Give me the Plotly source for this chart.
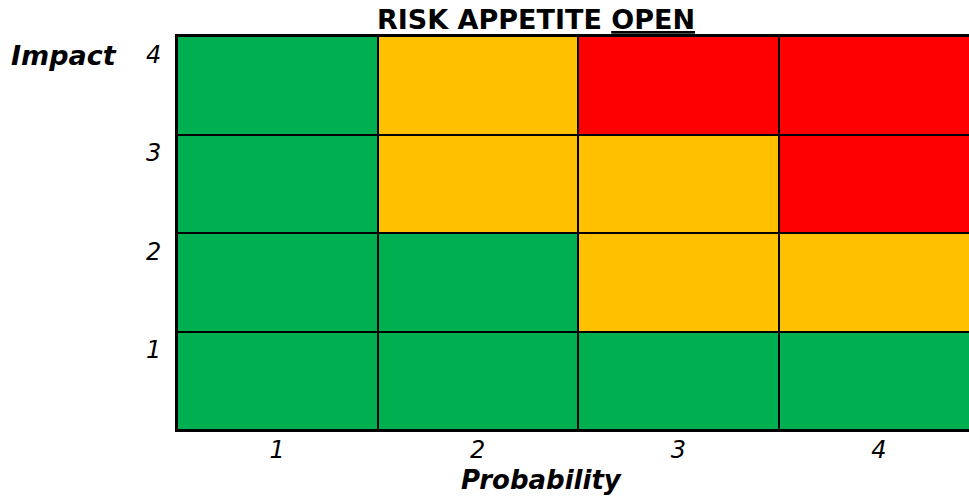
import plotly.graph_objects as go

# Data
probability = [1, 2, 3, 4]
impact = [1, 2, 3, 4]
# risk level per cell: 0 = low (green), 1 = medium (amber), 2 = high (red); rows = impact 1..4
risk_levels = [
    [0, 0, 0, 0],
    [0, 0, 1, 1],
    [0, 1, 1, 2],
    [0, 1, 2, 2],
]
level_colors = ["#00B050", "#FFC000", "#FF0000"]
x_tick_labels = ["1", "2", "3", "4"]
y_tick_labels = ["1", "2", "3", "4"]
title_text = "<b>RISK APPETITE <u>OPEN</u></b>"
x_title = "<b><i>Probability</i></b>"
y_title = "<b><i>Impact</i></b>"

FONT = "DejaVu Sans"

W, H = 969, 500
ML, MT, MB = 177, 36, 70
PW = W - ML

n = len(level_colors)
colorscale = []
for i, c in enumerate(level_colors):
    colorscale.append([i / n, c])
    colorscale.append([(i + 1) / n, c])

fig = go.Figure(
    go.Heatmap(
        x=probability,
        y=impact,
        z=risk_levels,
        zmin=-0.5,
        zmax=n - 0.5,
        colorscale=colorscale,
        showscale=False,
        xgap=2,
        ygap=2,
        hoverinfo="skip",
    )
)

fig.update_layout(
    width=W,
    height=H,
    margin=dict(l=ML, r=0, t=MT, b=MB),
    paper_bgcolor="white",
    plot_bgcolor="black",
    font=dict(family=FONT, color="black"),
    showlegend=False,
)

fig.update_xaxes(
    range=[0.5, 4.45],
    tickvals=probability,
    ticktext=x_tick_labels,
    tickfont=dict(family=FONT, size=24, color="black", style="italic"),
    showgrid=False,
    zeroline=False,
    showline=True,
    linecolor="black",
    linewidth=2,
    mirror=True,
    ticks="",
    ticklabelstandoff=-3,
)
fig.update_yaxes(
    range=[0.5, 4.5],
    tickvals=[v + 0.315 for v in impact],
    ticktext=y_tick_labels,
    tickfont=dict(family=FONT, size=24, color="black", style="italic"),
    showgrid=False,
    zeroline=False,
    showline=True,
    linecolor="black",
    linewidth=2,
    mirror=False,
    ticks="",
    ticklabelstandoff=9,
)

fig.add_annotation(
    text=title_text, xref="paper", yref="paper", x=(536 - ML) / PW, y=1,
    yanchor="middle", xanchor="center", showarrow=False, yshift=17,
    font=dict(family=FONT, size=27, color="black"),
)
fig.add_annotation(
    text=x_title, xref="paper", yref="paper", x=(541 - ML) / PW, y=0,
    yanchor="middle", xanchor="center", showarrow=False, yshift=-50,
    font=dict(family=FONT, size=26, color="black"),
)
fig.add_annotation(
    text=y_title, xref="paper", yref="paper", x=(9 - ML) / PW, y=1,
    yanchor="middle", xanchor="left", showarrow=False, yshift=-19,
    font=dict(family=FONT, size=27, color="black"),
)

fig.write_html(
    "out.html",
    config={"displayModeBar": False},
    post_script="document.body.style.margin='0';",
)
